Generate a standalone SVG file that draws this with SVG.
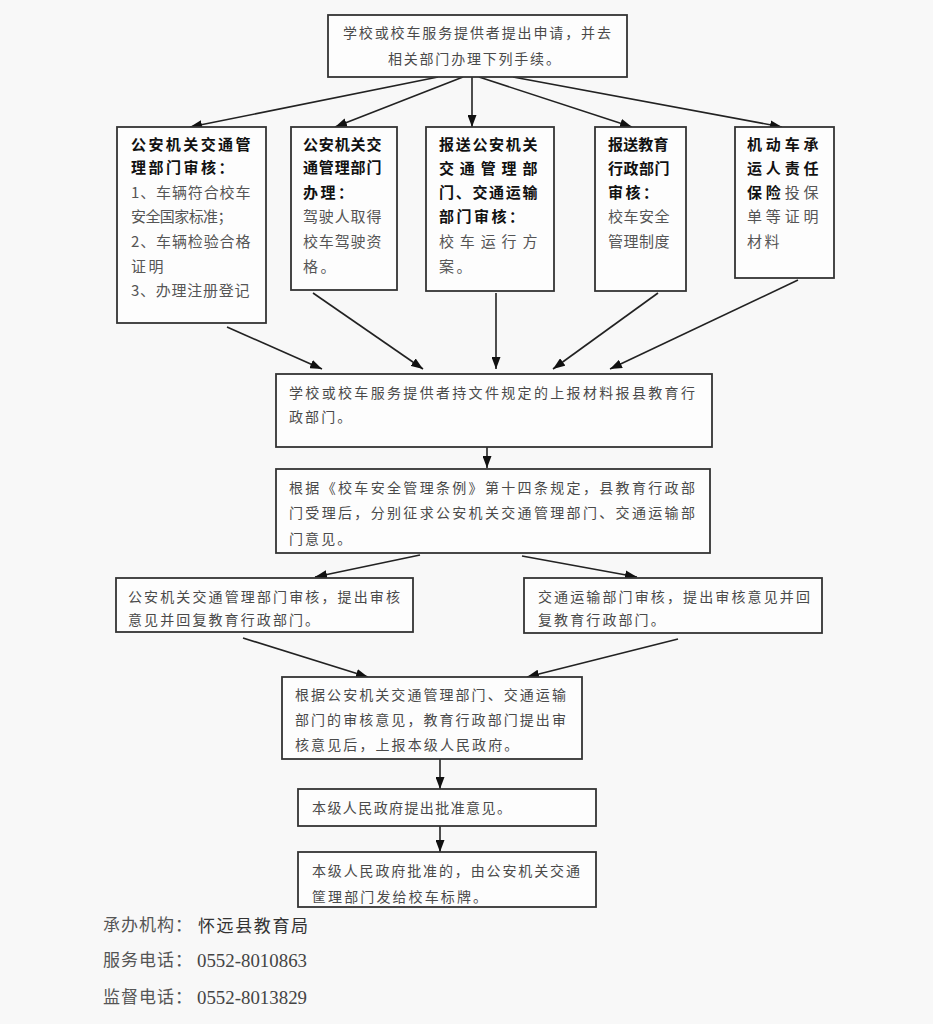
<svg xmlns="http://www.w3.org/2000/svg" width="933" height="1024" viewBox="0 0 933 1024">
<style>
.bx{fill:#fdfdfd;stroke:#333;stroke-width:1.8}
.t{font-family:"Noto Sans CJK SC","Liberation Sans",sans-serif;font-size:14px;fill:#4a4a4a;letter-spacing:2.1px}
.s{font-family:"Noto Sans CJK SC","Liberation Sans",sans-serif;font-size:15px;fill:#555;letter-spacing:2.5px}
.b{font-weight:bold;fill:#111}
.g{font-weight:normal;fill:#555}
.c{stroke:#222;stroke-width:1.6;fill:none;marker-end:url(#ah)}
.f{font-family:"Noto Sans CJK SC","Liberation Serif",serif;font-size:17px;fill:#555;letter-spacing:1px}
.n{font-family:"Liberation Serif","Noto Sans CJK SC",serif;font-size:19px;fill:#444}
</style>
<defs>
<marker id="ah" markerUnits="userSpaceOnUse" markerWidth="12" markerHeight="9" refX="12" refY="4.5" orient="auto">
<path d="M0,0 L12,4.5 L0,9 z" fill="#111"/>
</marker>
</defs>
<rect x="0" y="0" width="933" height="1024" fill="#f8f8f8"/>

<g id="connectors">
<line class="c" x1="438" y1="77" x2="190" y2="127"/>
<line class="c" x1="463" y1="77" x2="335" y2="127"/>
<line class="c" x1="472" y1="77" x2="472" y2="127"/>
<line class="c" x1="479" y1="77" x2="632" y2="127"/>
<line class="c" x1="513" y1="77" x2="782" y2="127"/>
<line class="c" x1="227" y1="327" x2="322" y2="369"/>
<line class="c" x1="313" y1="293" x2="423" y2="369"/>
<line class="c" x1="496" y1="293" x2="496" y2="369"/>
<line class="c" x1="658" y1="293" x2="553" y2="369"/>
<line class="c" x1="798" y1="280" x2="610" y2="369"/>
<line class="c" x1="487" y1="447" x2="487" y2="468"/>
<line class="c" x1="420" y1="555" x2="315" y2="577"/>
<line class="c" x1="522" y1="556" x2="637" y2="577"/>
<line class="c" x1="243" y1="638" x2="368" y2="677"/>
<line class="c" x1="678" y1="639" x2="527" y2="677"/>
<line class="c" x1="440" y1="759" x2="440" y2="789"/>
<line class="c" x1="440" y1="826" x2="440" y2="852"/>
</g>

<g id="n-top">
<rect class="bx" x="328" y="15" width="299" height="62"/>
<text class="t" x="343" y="38" textLength="270" lengthAdjust="spacing">学校或校车服务提供者提出申请，并去</text>
<text class="t" x="388" y="64" textLength="174" lengthAdjust="spacing">相关部门办理下列手续。</text>
</g>

<g id="n-box1">
<rect class="bx" x="117" y="127" width="149" height="196"/>
<text class="s b" x="131" y="150" textLength="122" lengthAdjust="spacing">公安机关交通管</text>
<text class="s b" x="131" y="173">理部门审核：</text>
<text class="s" x="131" y="198" textLength="122" lengthAdjust="spacing">1、车辆符合校车</text>
<text class="s" x="131" y="222" textLength="104" lengthAdjust="spacing">安全国家标准；</text>
<text class="s" x="131" y="247" textLength="122" lengthAdjust="spacing">2、车辆检验合格</text>
<text class="s" x="131" y="272">证明</text>
<text class="s" x="131" y="296" textLength="121" lengthAdjust="spacing">3、办理注册登记</text>
</g>

<g id="n-box2">
<rect class="bx" x="291" y="127" width="106" height="163"/>
<text class="s b" x="303" y="150" textLength="81" lengthAdjust="spacing">公安机关交</text>
<text class="s b" x="303" y="173" textLength="81" lengthAdjust="spacing">通管理部门</text>
<text class="s b" x="303" y="198">办理：</text>
<text class="s" x="303" y="222" textLength="81" lengthAdjust="spacing">驾驶人取得</text>
<text class="s" x="303" y="247" textLength="81" lengthAdjust="spacing">校车驾驶资</text>
<text class="s" x="303" y="272">格。</text>
</g>

<g id="n-box3">
<rect class="bx" x="426" y="127" width="128" height="164"/>
<text class="s b" x="439" y="150" textLength="101" lengthAdjust="spacing">报送公安机关</text>
<text class="s b" x="439" y="174" textLength="101" lengthAdjust="spacing">交通管理部</text>
<text class="s b" x="439" y="198" textLength="101" lengthAdjust="spacing">门、交通运输</text>
<text class="s b" x="439" y="222">部门审核：</text>
<text class="s" x="439" y="247" textLength="101" lengthAdjust="spacing">校车运行方</text>
<text class="s" x="439" y="272">案。</text>
</g>

<g id="n-box4">
<rect class="bx" x="595" y="127" width="91" height="164"/>
<text class="s b" x="608" y="150" textLength="63" lengthAdjust="spacing">报送教育</text>
<text class="s b" x="608" y="174" textLength="64" lengthAdjust="spacing">行政部门</text>
<text class="s b" x="608" y="198">审核：</text>
<text class="s" x="608" y="222" textLength="64" lengthAdjust="spacing">校车安全</text>
<text class="s" x="608" y="247" textLength="64" lengthAdjust="spacing">管理制度</text>
</g>

<g id="n-box5">
<rect class="bx" x="735" y="127" width="99" height="151"/>
<text class="s b" x="747" y="150" textLength="74" lengthAdjust="spacing">机动车承</text>
<text class="s b" x="747" y="174" textLength="74" lengthAdjust="spacing">运人责任</text>
<text class="s" x="747" y="198" textLength="74" lengthAdjust="spacing"><tspan class="b">保险</tspan><tspan class="g">投保</tspan></text>
<text class="s" x="747" y="222" textLength="74" lengthAdjust="spacing">单等证明</text>
<text class="s" x="747" y="247">材料</text>
</g>

<g id="n-submit">
<rect class="bx" x="276" y="374" width="436" height="73"/>
<text class="t" x="289" y="398" textLength="408" lengthAdjust="spacing">学校或校车服务提供者持文件规定的上报材料报县教育行</text>
<text class="t" x="289" y="422">政部门。</text>
</g>

<g id="n-accept">
<rect class="bx" x="276" y="469" width="434" height="84"/>
<text class="t" x="289" y="493" textLength="408" lengthAdjust="spacing">根据《校车安全管理条例》第十四条规定，县教育行政部</text>
<text class="t" x="289" y="518" textLength="408" lengthAdjust="spacing">门受理后，分别征求公安机关交通管理部门、交通运输部</text>
<text class="t" x="289" y="544">门意见。</text>
</g>

<g id="n-police">
<rect class="bx" x="116" y="578" width="297" height="54"/>
<text class="t" x="128" y="602" textLength="274" lengthAdjust="spacing">公安机关交通管理部门审核，提出审核</text>
<text class="t" x="128" y="625">意见并回复教育行政部门。</text>
</g>

<g id="n-transport">
<rect class="bx" x="524" y="578" width="298" height="55"/>
<text class="t" x="538" y="602" textLength="274" lengthAdjust="spacing">交通运输部门审核，提出审核意见并回</text>
<text class="t" x="538" y="625">复教育行政部门。</text>
</g>

<g id="n-report">
<rect class="bx" x="282" y="677" width="300" height="82"/>
<text class="t" x="295" y="700" textLength="273" lengthAdjust="spacing">根据公安机关交通管理部门、交通运输</text>
<text class="t" x="295" y="725" textLength="273" lengthAdjust="spacing">部门的审核意见，教育行政部门提出审</text>
<text class="t" x="295" y="750">核意见后，上报本级人民政府。</text>
</g>

<g id="n-approve">
<rect class="bx" x="298" y="789" width="298" height="37"/>
<text class="t" x="312" y="813" textLength="201" lengthAdjust="spacing">本级人民政府提出批准意见。</text>
</g>

<g id="n-issue">
<rect class="bx" x="298" y="852" width="298" height="55"/>
<text class="t" x="312" y="876" textLength="270" lengthAdjust="spacing">本级人民政府批准的，由公安机关交通</text>
<text class="t" x="312" y="902">筐理部门发给校车标牌。</text>
</g>

<g id="footer">
<text class="f" x="103" y="931">承办机构：</text>
<text class="f" x="198" y="932" textLength="110" lengthAdjust="spacing" style="fill:#333;letter-spacing:0">怀远县教育局</text>
<text class="f" x="103" y="966">服务电话：</text>
<text class="n" x="197" y="967" textLength="110" lengthAdjust="spacingAndGlyphs">0552-8010863</text>
<text class="f" x="103" y="1003">监督电话：</text>
<text class="n" x="197" y="1004" textLength="110" lengthAdjust="spacingAndGlyphs">0552-8013829</text>
</g>
</svg>
